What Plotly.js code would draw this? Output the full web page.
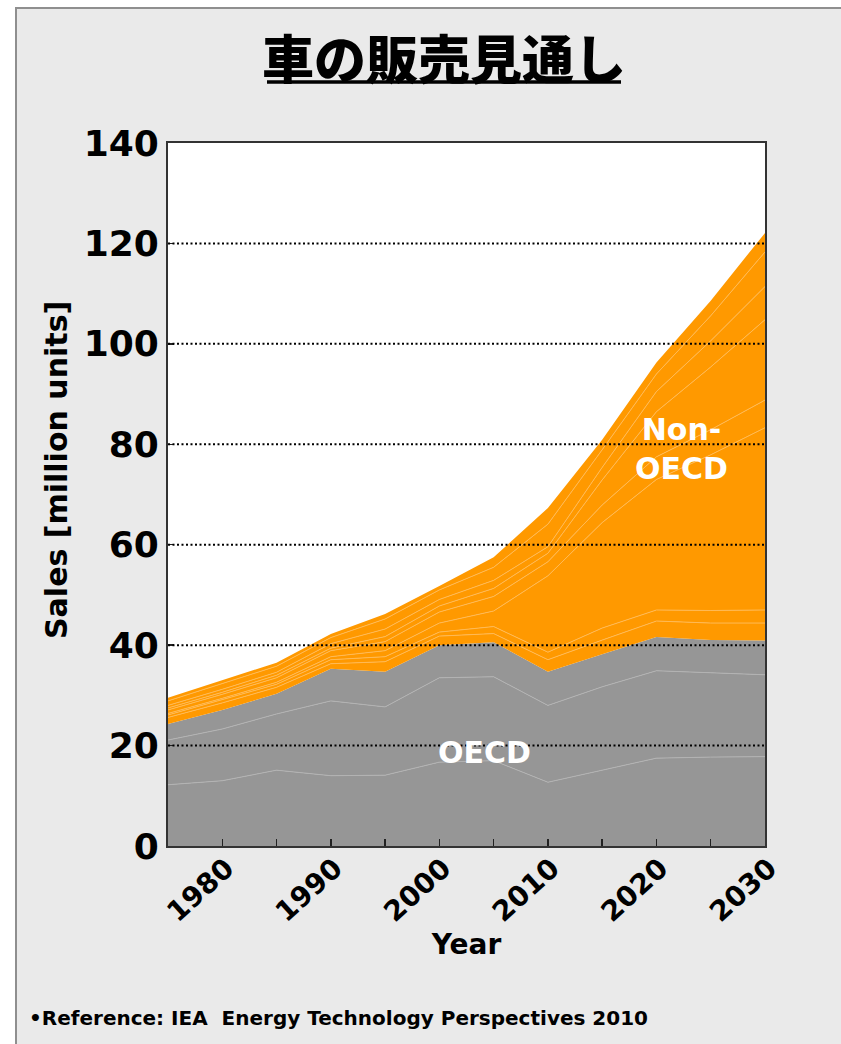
<!DOCTYPE html>
<html>
<head>
<meta charset="utf-8">
<script src="https://cdn.plot.ly/plotly-3.0.1.min.js"></script>
<style>
  html, body { margin: 0; padding: 0; background: #ffffff; }
  #chart { width: 841px; height: 1044px; }
</style>
</head>
<body>
<div id="chart"></div>
<script>
// ---- data (million units) ----
const years = [1975, 1980, 1985, 1990, 1995, 2000, 2005, 2010, 2015, 2020, 2025, 2030];

// OECD layers (bottom to top)
const oecdLayer1 = [12.2, 13.0, 15.1, 14.0, 14.1, 16.7, 17.0, 12.7, 15.1, 17.5, 17.7, 17.8];
const oecdLayer2 = [8.9, 10.3, 11.2, 14.9, 13.6, 16.8, 16.7, 15.3, 16.6, 17.4, 16.8, 16.3];
const oecdLayer3 = [3.2, 3.8, 4.0, 6.4, 7.0, 6.5, 6.9, 6.7, 6.5, 6.7, 6.5, 6.8];

// Non-OECD layers (bottom to top)
const nonOecdLayer1 = [1.3, 1.4, 1.3, 1.0, 2.0, 1.8, 1.7, 2.4, 2.8, 3.2, 3.4, 3.5];
const nonOecdLayer2 = [0.5, 0.6, 0.6, 0.8, 1.0, 0.8, 1.4, 1.5, 2.4, 2.2, 2.5, 2.6];
const nonOecdLayer3 = [0.3, 0.3, 0.4, 0.6, 1.2, 1.8, 3.1, 15.2, 21.0, 26.0, 31.0, 36.3];
const nonOecdLayer4 = [0.7, 0.8, 0.9, 1.2, 1.8, 2.2, 2.9, 2.8, 3.5, 4.5, 5.0, 5.5];
const nonOecdLayer5 = [0.4, 0.4, 0.5, 0.5, 1.0, 1.2, 1.6, 1.7, 5.0, 9.0, 12.5, 16.0];
const nonOecdLayer6 = [0.5, 0.6, 0.6, 0.9, 1.5, 1.3, 1.6, 1.3, 2.5, 4.0, 5.2, 6.6];
const nonOecdLayer7 = [0.9, 1.1, 1.2, 1.2, 2.0, 1.9, 2.6, 4.5, 3.5, 3.5, 5.0, 6.9];
const nonOecdLayer8 = [0.6, 0.7, 0.7, 0.7, 1.0, 0.8, 2.0, 3.2, 2.0, 2.3, 3.0, 3.8];

// ticks
const xTickVals = [1980, 1985, 1990, 1995, 2000, 2005, 2010, 2015, 2020, 2025, 2030];
const xTickText = ['1980', '', '1990', '', '2000', '', '2010', '', '2020', '', '2030'];
const yTickVals = [0, 20, 40, 60, 80, 100, 120, 140];
const yGridVals = [20, 40, 60, 80, 100, 120];

// ---- styling ----
const GRAY = '#969696', GRAY_LINE = '#b3b3b3';
const ORANGE = '#ff9900', ORANGE_LINE = '#ffba55';
const FONT = 'DejaVu Sans, Verdana, sans-serif';

const oecd = [oecdLayer1, oecdLayer2, oecdLayer3];
const nonOecd = [nonOecdLayer1, nonOecdLayer2, nonOecdLayer3, nonOecdLayer4,
                 nonOecdLayer5, nonOecdLayer6, nonOecdLayer7, nonOecdLayer8];

const traces = [];
oecd.forEach((vals, i) => {
  const last = i === oecd.length - 1;
  traces.push({
    type: 'scatter', mode: 'lines', x: years, y: vals,
    name: 'OECD ' + (i + 1), stackgroup: 'sales',
    fillcolor: GRAY,
    line: { color: last ? GRAY : GRAY_LINE, width: last ? 0 : 1 },
    hoverinfo: 'x+y+name'
  });
});
nonOecd.forEach((vals, i) => {
  const last = i === nonOecd.length - 1;
  traces.push({
    type: 'scatter', mode: 'lines', x: years, y: vals,
    name: 'Non-OECD ' + (i + 1), stackgroup: 'sales',
    fillcolor: ORANGE,
    line: { color: last ? ORANGE : ORANGE_LINE, width: last ? 0 : 1 },
    hoverinfo: 'x+y+name'
  });
});

// plot area in pixels
const W = 841, H = 1044;
const M = { l: 168, r: 76, t: 143, b: 198 };
const pw = W - M.l - M.r, ph = H - M.t - M.b;
const px = v => (v - M.l) / pw;          // pixel x -> paper
const py = v => (H - M.b - v) / ph;      // pixel y -> paper

const shapes = [
  // outer frame
  { type: 'rect', xref: 'paper', yref: 'paper', layer: 'below',
    x0: px(16), x1: px(860), y0: py(1060), y1: py(8),
    fillcolor: '#eaeaea', line: { color: '#8f8f8f', width: 2 } },
  // white plotting area
  { type: 'rect', xref: 'paper', yref: 'paper', layer: 'below',
    x0: 0, x1: 1, y0: 0, y1: 1,
    fillcolor: '#ffffff', line: { width: 0 } },
  // title underline
  { type: 'line', xref: 'paper', yref: 'paper', layer: 'above',
    x0: px(267), x1: px(621), y0: py(82), y1: py(82),
    line: { color: '#000000', width: 3.5 } }
];
yGridVals.forEach(v => {
  shapes.push({ type: 'line', xref: 'x', yref: 'y', layer: 'above',
    x0: years[0], x1: years[years.length - 1], y0: v, y1: v,
    line: { color: '#000000', width: 2, dash: '2px,2.5px' } });
});

const layout = {
  width: W, height: H,
  margin: M,
  paper_bgcolor: '#ffffff',
  plot_bgcolor: '#ffffff',
  showlegend: false,
  font: { family: FONT, color: '#000000' },
  title: {
    text: '車の販売見通し',
    font: { family: 'Noto Sans CJK JP, sans-serif', size: 52, color: '#000000', weight: 900 },
    x: px(444), xref: 'paper', xanchor: 'center',
    y: 1 - 61 / H, yref: 'container', yanchor: 'middle'
  },
  xaxis: {
    range: [years[0], years[years.length - 1]],
    tickmode: 'array', tickvals: xTickVals, ticktext: xTickText,
    ticks: 'inside', ticklen: 7, tickwidth: 1.5, tickcolor: '#222',
    tickangle: -42,
    ticklabelshift: 4, ticklabelstandoff: -7,
    tickfont: { family: FONT, size: 28, weight: 'bold' },
    showgrid: false, zeroline: false,
    showline: true, linecolor: '#333', linewidth: 2, mirror: true,
    layer: 'above traces',
    title: { text: '<b>Year</b>', font: { family: FONT, size: 28 }, standoff: 0 }
  },
  yaxis: {
    range: [0, 140],
    tickmode: 'array', tickvals: yTickVals,
    ticks: 'inside', ticklen: 6, tickwidth: 1.5, tickcolor: '#222',
    tickfont: { family: FONT, size: 36, weight: 'bold' },
    ticklabelstandoff: 0,
    showgrid: false, zeroline: false,
    showline: true, linecolor: '#333', linewidth: 2, mirror: true,
    layer: 'above traces'
  },
  shapes: shapes,
  annotations: [
    { text: '<b>Sales [million units]</b>', textangle: -90,
      xref: 'paper', yref: 'paper', x: px(56), y: py(470),
      xanchor: 'center', yanchor: 'middle', showarrow: false,
      font: { family: FONT, size: 30, color: '#000000' } },
    { text: '<b>OECD</b>', x: 2004.2, y: 18.7, xref: 'x', yref: 'y',
      showarrow: false, font: { family: FONT, size: 30, color: '#ffffff' } },
    { text: '<b>Non-<br>OECD</b>', x: 2022.3, y: 79, xref: 'x', yref: 'y',
      showarrow: false, font: { family: FONT, size: 30, color: '#ffffff' } },
    { text: '<b>•Reference: IEA  Energy Technology Perspectives 2010</b>',
      xref: 'paper', yref: 'paper', x: px(27), y: py(1018),
      xanchor: 'left', yanchor: 'middle', showarrow: false,
      font: { family: FONT, size: 20, color: '#000000' } }
  ]
};

Plotly.newPlot('chart', traces, layout, { displayModeBar: false, staticPlot: true });
</script>
</body>
</html>
